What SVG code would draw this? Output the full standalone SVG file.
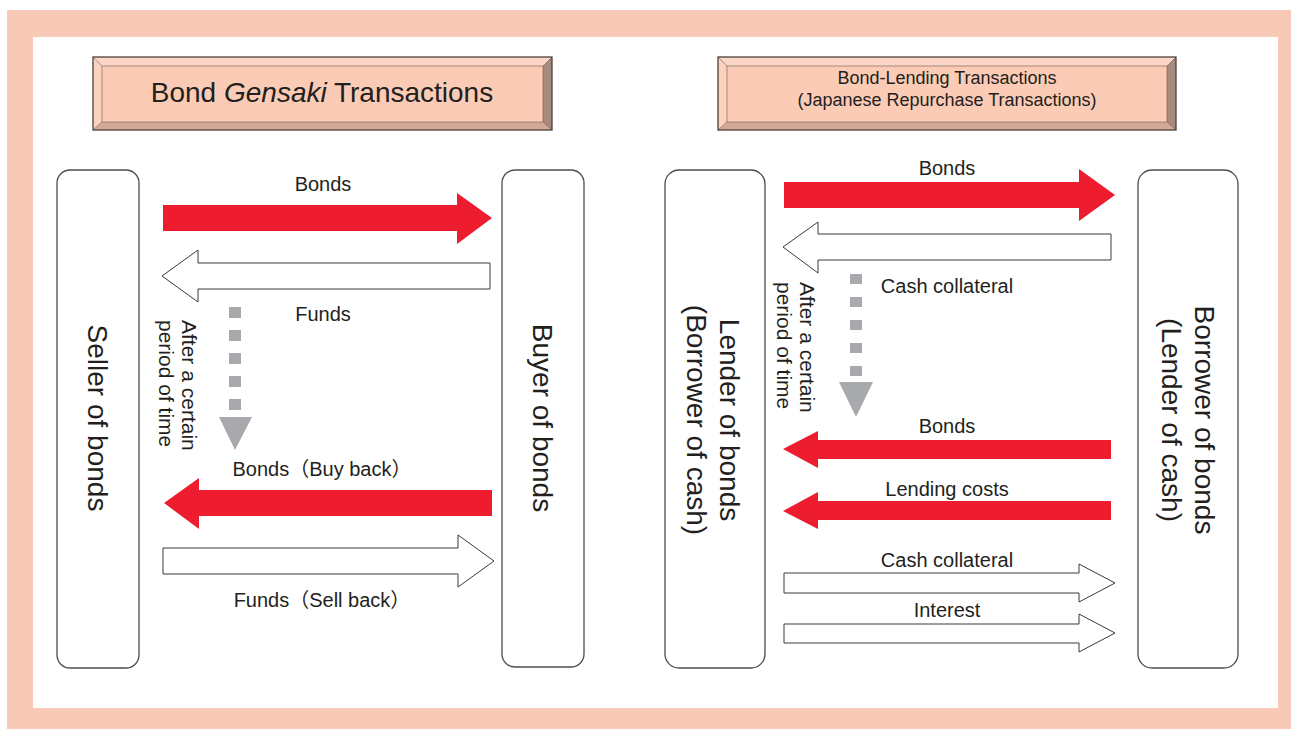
<svg xmlns="http://www.w3.org/2000/svg" width="1291" height="729" viewBox="0 0 1291 729">
<defs>
<style>
.t{font-family:"Liberation Sans","Noto Sans CJK JP",Arial,sans-serif;fill:#231f20}
.lbl{font-size:20px;text-anchor:middle}
.node{fill:#fff;stroke:#4d4d4d;stroke-width:1.3}
.nt{font-size:28px;text-anchor:middle}
.small{font-size:21px}
.red{fill:#ed1c2e}
.wht{fill:#fff;stroke:#3a3a3a;stroke-width:1}
.dash{fill:#a7a9ac}
.bt{fill:#fcd6c4}
.bl{fill:#fbd2be}
.bb{fill:#d3a894}
.br{fill:#a88a7d}
.bf{fill:#fbcbb5}
.bo{fill:none;stroke:#4d3f3a;stroke-width:1.3}
.bi{fill:none;stroke:#6b5a52;stroke-width:0.6}
</style>
</defs>
<rect x="0" y="0" width="1291" height="729" fill="#fff"/>
<rect x="7" y="10" width="1284" height="719" fill="#f9c9b7"/>
<rect x="33" y="37" width="1245" height="671" fill="#fff"/>

<g id="title-left">
<polygon class="bt" points="93,57 552,57 543,66 102,66"/>
<polygon class="bl" points="93,57 102,66 102,122 93,130"/>
<polygon class="bb" points="93,130 102,122 543,122 552,130"/>
<polygon class="br" points="552,57 552,130 543,122 543,66"/>
<rect class="bf" x="102" y="66" width="441" height="56"/>
<path class="bi" d="M93,57 L102,66 M552,57 L543,66 M93,130 L102,122 M552,130 L543,122"/>
<rect class="bi" x="102" y="66" width="441" height="56"/>
<rect class="bo" x="93" y="57" width="459" height="73"/>
<text class="t" x="322" y="102" font-size="28" text-anchor="middle">Bond <tspan font-style="italic">Gensaki</tspan> Transactions</text>
</g>

<g id="title-right">
<polygon class="bt" points="718,57 1176,57 1167,66 727,66"/>
<polygon class="bl" points="718,57 727,66 727,122 718,130"/>
<polygon class="bb" points="718,130 727,122 1167,122 1176,130"/>
<polygon class="br" points="1176,57 1176,130 1167,122 1167,66"/>
<rect class="bf" x="727" y="66" width="440" height="56"/>
<path class="bi" d="M718,57 L727,66 M1176,57 L1167,66 M718,130 L727,122 M1176,130 L1167,122"/>
<rect class="bi" x="727" y="66" width="440" height="56"/>
<rect class="bo" x="718" y="57" width="458" height="73"/>
<text class="t" x="947" y="84" font-size="18" text-anchor="middle">Bond-Lending Transactions</text>
<text class="t" x="947" y="106" font-size="18" text-anchor="middle">(Japanese Repurchase Transactions)</text>
</g>

<g id="seller">
<rect class="node" x="57" y="170" width="82" height="498" rx="13"/>
<text class="t nt" transform="translate(88,418) rotate(90)">Seller of bonds</text>
</g>
<g id="buyer">
<rect class="node" x="502" y="170" width="82" height="497" rx="13"/>
<text class="t nt" transform="translate(533,418) rotate(90)">Buyer of bonds</text>
</g>
<g id="lender">
<rect class="node" x="665" y="170" width="100" height="498" rx="14"/>
<text class="t nt" transform="translate(720,420) rotate(90)">Lender of bonds</text>
<text class="t nt" transform="translate(687,420) rotate(90)">(Borrower of cash)</text>
</g>
<g id="borrower">
<rect class="node" x="1138" y="170" width="100" height="498" rx="14"/>
<text class="t nt" transform="translate(1195,420) rotate(90)">Borrower of bonds</text>
<text class="t nt" transform="translate(1162,420) rotate(90)">(Lender of cash)</text>
</g>

<g id="connectors">
<polygon class="red" points="163,205 457,205 457,193 492,218 457,244 457,231 163,231"/>
<text class="t lbl" x="323" y="191">Bonds</text>
<polygon class="wht" points="490,263 198,263 198,250 162,276 198,302 198,289 490,289"/>
<text class="t lbl" x="323" y="321">Funds</text>
<g class="dash">
<rect x="229" y="307" width="12" height="11"/>
<rect x="229" y="330" width="12" height="11"/>
<rect x="229" y="353" width="12" height="11"/>
<rect x="229" y="376" width="12" height="11"/>
<rect x="229" y="399" width="12" height="11"/>
<polygon points="219,417 252,417 235,450"/>
</g>
<text class="t small" transform="translate(182,320) rotate(90)">After a certain</text>
<text class="t small" transform="translate(159,320) rotate(90)">period of time</text>
<polygon class="red" points="492,490 199,490 199,478 164,503 199,529 199,516 492,516"/>
<text class="t lbl" x="322" y="476">Bonds（Buy back）</text>
<polygon class="wht" points="163,548 458,548 458,535 494,561 458,587 458,574 163,574"/>
<text class="t lbl" x="322" y="607">Funds（Sell back）</text>

<polygon class="red" points="784,182 1079,182 1079,169 1115,195 1079,221 1079,208 784,208"/>
<text class="t lbl" x="947" y="175">Bonds</text>
<polygon class="wht" points="1111,234 818,234 818,222 783,247 818,273 818,260 1111,260"/>
<text class="t lbl" x="947" y="293">Cash collateral</text>
<g class="dash">
<rect x="850" y="274" width="12" height="10"/>
<rect x="850" y="297" width="12" height="10"/>
<rect x="850" y="320" width="12" height="10"/>
<rect x="850" y="343" width="12" height="10"/>
<rect x="850" y="366" width="12" height="10"/>
<polygon points="839,382 873,382 856,417"/>
</g>
<text class="t small" transform="translate(800,282) rotate(90)">After a certain</text>
<text class="t small" transform="translate(777,282) rotate(90)">period of time</text>
<polygon class="red" points="1111,440 818,440 818,431 783,449 818,468 818,459 1111,459"/>
<text class="t lbl" x="947" y="433">Bonds</text>
<polygon class="red" points="1111,501 818,501 818,492 783,511 818,529 818,520 1111,520"/>
<text class="t lbl" x="947" y="496">Lending costs</text>
<polygon class="wht" points="784,573 1079,573 1079,564 1115,583 1079,602 1079,593 784,593"/>
<text class="t lbl" x="947" y="567">Cash collateral</text>
<polygon class="wht" points="784,624 1079,624 1079,614 1115,633 1079,652 1079,643 784,643"/>
<text class="t lbl" x="947" y="617">Interest</text>
</g>
</svg>
